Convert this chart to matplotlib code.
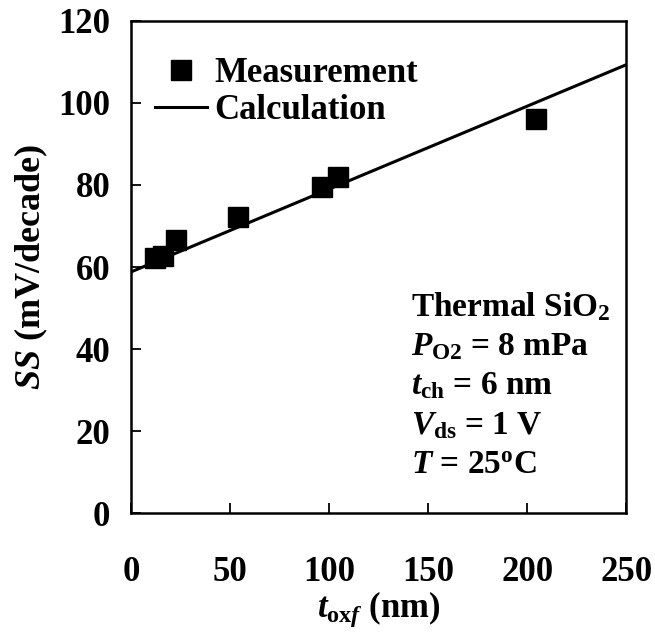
import matplotlib
matplotlib.use('Agg')
import matplotlib.pyplot as plt

plt.rcParams['font.family'] = 'Liberation Serif'
plt.rcParams['font.weight'] = 'bold'
plt.rcParams['axes.labelweight'] = 'bold'
plt.rcParams['mathtext.fontset'] = 'custom'
plt.rcParams['mathtext.rm'] = 'Liberation Serif:bold'
plt.rcParams['mathtext.it'] = 'Liberation Serif:bold:italic'
plt.rcParams['mathtext.bf'] = 'Liberation Serif:bold'

# measured SS vs oxide thickness
tox_meas = [12.1, 16.1, 22.7, 53.9, 96.3, 104.3, 204.6]
ss_meas = [62.1, 62.6, 66.5, 72.3, 79.6, 82.0, 96.2]

# calculated line
tox_calc = [0, 250]
ss_calc = [58.8, 109.3]

xticks = [0, 50, 100, 150, 200, 250]
yticks = [0, 20, 40, 60, 80, 100, 120]

fig = plt.figure(figsize=(6.55, 6.32), dpi=100)
ax = fig.add_axes([0.2, 0.188, 0.756, 0.779])

ax.plot(tox_calc, ss_calc, 'k-', lw=2.2, label='Calculation', zorder=2)
ax.plot(tox_meas, ss_meas, 'ks', ms=14.5, label='Measurement', zorder=3, linestyle='none')

ax.set_xlim(0, 250)
ax.set_ylim(0, 120)
ax.set_xticks(xticks)
ax.set_yticks(yticks)
ax.tick_params(direction='in', length=7, width=1.3, labelsize=25)
ax.tick_params(axis='x', pad=31)
ax.tick_params(axis='y', pad=15)
for s in ax.spines.values():
    s.set_linewidth(1.8)

ax.set_xlabel(r'$t_{\mathrm{ox}f}$ (nm)', fontsize=25, labelpad=0)
ax.set_ylabel(r'$SS$ (mV/decade)', fontsize=26, labelpad=6)

h, l = ax.get_legend_handles_labels()
ax.legend(h[::-1], l[::-1], loc='upper left', bbox_to_anchor=(0.0, 0.975),
          frameon=False, fontsize=25, handlelength=1.5, handletextpad=0.2,
          labelspacing=0.1, borderaxespad=0.3)

notes = ['Thermal SiO$_2$', r'$P_{\mathrm{O2}}$ = 8 mPa', r'$t_{\mathrm{ch}}$ = 6 nm',
         r'$V_{\mathrm{ds}}$ = 1 V', r'$T$ = 25$^{\mathrm{o}}$C']
for i, t in enumerate(notes):
    ax.text(0.565, 0.42 - i * 0.081, t, transform=ax.transAxes, fontsize=24,
            va='center', ha='left')

fig.savefig('out.png', dpi=100)
